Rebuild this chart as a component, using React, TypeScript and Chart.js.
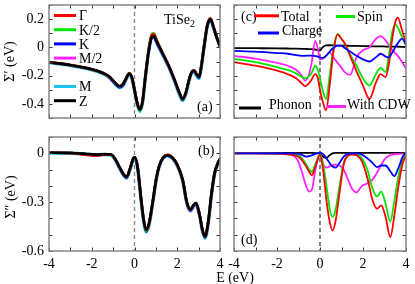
import React, { useEffect, useRef } from 'react';
import { Chart, registerables } from 'chart.js';
Chart.register(...registerables);

const SERIF = "'Liberation Serif', 'Times New Roman', 'DejaVu Serif', serif";

// ---------- Panel (a): Re Sigma for k-points ----------
const E_A = [-4, -3, -2, -1.5, -1.2, -1.0, -0.85, -0.7, -0.55, -0.4, -0.25, -0.12, 0, 0.12, 0.25, 0.38, 0.5, 0.65, 0.8, 0.9, 1.05, 1.3, 1.6, 1.9, 2.1, 2.25, 2.4, 2.55, 2.7, 2.8, 2.9, 3.02, 3.12, 3.25, 3.4, 3.55, 3.7, 3.85, 4];
const A_GAMMA = [-0.105, -0.125, -0.155, -0.18, -0.205, -0.235, -0.26, -0.275, -0.262, -0.222, -0.183, -0.213, -0.298, -0.39, -0.442, -0.378, -0.215, -0.032, 0.085, 0.095, 0.045, -0.035, -0.128, -0.24, -0.322, -0.366, -0.322, -0.23, -0.168, -0.162, -0.188, -0.208, -0.136, 0.005, 0.155, 0.205, 0.145, 0.072, 0.012];
const A_K2 = [-0.105, -0.126, -0.156, -0.181, -0.206, -0.236, -0.261, -0.276, -0.263, -0.223, -0.184, -0.214, -0.3, -0.392, -0.448, -0.38, -0.213, -0.03, 0.09, 0.1, 0.048, -0.035, -0.13, -0.242, -0.324, -0.368, -0.324, -0.232, -0.17, -0.164, -0.19, -0.21, -0.138, 0.003, 0.152, 0.203, 0.143, 0.07, 0.01];
const A_K = [-0.106, -0.126, -0.157, -0.182, -0.208, -0.24, -0.266, -0.282, -0.27, -0.226, -0.186, -0.216, -0.302, -0.392, -0.444, -0.382, -0.222, -0.04, 0.072, 0.078, 0.034, -0.042, -0.133, -0.244, -0.326, -0.37, -0.326, -0.234, -0.172, -0.168, -0.194, -0.214, -0.142, -0.002, 0.148, 0.198, 0.138, 0.068, 0.008];
const A_M2 = [-0.105, -0.126, -0.156, -0.181, -0.207, -0.238, -0.263, -0.279, -0.266, -0.224, -0.185, -0.215, -0.3, -0.39, -0.443, -0.381, -0.22, -0.038, 0.068, 0.072, 0.03, -0.044, -0.135, -0.246, -0.324, -0.362, -0.324, -0.232, -0.17, -0.166, -0.192, -0.212, -0.14, -0.001, 0.15, 0.2, 0.14, 0.07, 0.01];
const A_M = [-0.108, -0.129, -0.16, -0.185, -0.211, -0.242, -0.268, -0.285, -0.272, -0.23, -0.19, -0.22, -0.306, -0.398, -0.452, -0.388, -0.226, -0.045, 0.068, 0.075, 0.03, -0.046, -0.138, -0.25, -0.332, -0.376, -0.332, -0.24, -0.176, -0.172, -0.198, -0.22, -0.146, -0.005, 0.146, 0.197, 0.137, 0.066, 0.006];
const A_Z = [-0.105, -0.125, -0.155, -0.18, -0.205, -0.235, -0.26, -0.275, -0.262, -0.222, -0.185, -0.215, -0.3, -0.39, -0.44, -0.38, -0.22, -0.04, 0.07, 0.08, 0.038, -0.038, -0.13, -0.24, -0.32, -0.365, -0.32, -0.23, -0.17, -0.165, -0.19, -0.21, -0.14, 0.0, 0.15, 0.2, 0.14, 0.07, 0.01];

// ---------- Panel (b): Im Sigma for k-points ----------
const E_B = [-4, -3, -2.3, -1.8, -1.4, -1.1, -0.9, -0.7, -0.5, -0.37, -0.2, -0.05, 0.02, 0.15, 0.3, 0.43, 0.55, 0.68, 0.85, 1.0, 1.15, 1.35, 1.55, 1.8, 2.0, 2.25, 2.45, 2.62, 2.75, 2.88, 3.05, 3.18, 3.3, 3.45, 3.6, 3.75, 3.9, 4];
const B_GAMMA = [0.003, 0.002, -0.008, -0.014, -0.008, -0.009, -0.036, -0.086, -0.131, -0.146, -0.09, -0.031, -0.026, -0.092, -0.272, -0.412, -0.472, -0.432, -0.302, -0.171, -0.08, -0.024, -0.01, -0.03, -0.071, -0.162, -0.302, -0.347, -0.322, -0.306, -0.382, -0.472, -0.512, -0.422, -0.252, -0.121, -0.06, -0.034];
const B_K2 = [0.003, 0.002, -0.004, -0.009, -0.006, -0.008, -0.035, -0.086, -0.132, -0.147, -0.091, -0.03, -0.024, -0.091, -0.274, -0.416, -0.478, -0.436, -0.303, -0.171, -0.079, -0.022, -0.009, -0.029, -0.07, -0.161, -0.301, -0.346, -0.321, -0.305, -0.381, -0.471, -0.511, -0.421, -0.251, -0.12, -0.059, -0.033];
const B_K = [0.003, 0.002, -0.004, -0.009, -0.006, -0.009, -0.038, -0.09, -0.136, -0.15, -0.093, -0.032, -0.026, -0.093, -0.276, -0.418, -0.48, -0.438, -0.305, -0.172, -0.081, -0.026, -0.013, -0.032, -0.072, -0.163, -0.304, -0.35, -0.325, -0.309, -0.384, -0.475, -0.515, -0.425, -0.254, -0.122, -0.062, -0.036];
const B_M2 = [0.003, 0.002, -0.006, -0.013, -0.008, -0.009, -0.036, -0.087, -0.133, -0.148, -0.092, -0.031, -0.025, -0.09, -0.27, -0.41, -0.47, -0.432, -0.302, -0.172, -0.082, -0.027, -0.014, -0.032, -0.072, -0.164, -0.306, -0.352, -0.326, -0.31, -0.383, -0.473, -0.513, -0.423, -0.252, -0.121, -0.06, -0.035];
const B_M = [0.001, 0.0, -0.005, -0.011, -0.008, -0.011, -0.04, -0.092, -0.138, -0.153, -0.096, -0.035, -0.029, -0.096, -0.278, -0.42, -0.482, -0.44, -0.308, -0.176, -0.085, -0.029, -0.016, -0.035, -0.076, -0.167, -0.308, -0.354, -0.33, -0.314, -0.388, -0.478, -0.52, -0.43, -0.258, -0.126, -0.066, -0.04];
const B_Z = [0.003, 0.002, -0.003, -0.008, -0.005, -0.008, -0.035, -0.085, -0.13, -0.145, -0.09, -0.03, -0.025, -0.09, -0.27, -0.41, -0.47, -0.43, -0.3, -0.17, -0.08, -0.025, -0.012, -0.03, -0.07, -0.16, -0.3, -0.345, -0.32, -0.305, -0.38, -0.47, -0.51, -0.42, -0.25, -0.12, -0.06, -0.035];

// ---------- Panel (c): Re Sigma decomposition ----------
const E_C = [-4, -3, -2, -1.5, -1.1, -0.85, -0.7, -0.55, -0.4, -0.22, -0.1, 0, 0.12, 0.28, 0.45, 0.62, 0.82, 1.0, 1.15, 1.4, 1.7, 2.0, 2.3, 2.6, 2.82, 3.05, 3.2, 3.35, 3.5, 3.62, 3.8, 3.9, 4];
const C_TOTAL = [-0.105, -0.13, -0.165, -0.19, -0.22, -0.255, -0.275, -0.26, -0.23, -0.19, -0.22, -0.3, -0.38, -0.445, -0.27, -0.035, 0.09, 0.06, 0.03, -0.06, -0.17, -0.27, -0.365, -0.25, -0.19, -0.21, -0.12, 0.05, 0.18, 0.21, 0.13, 0.08, 0.035];
const C_SPIN = [-0.082, -0.105, -0.14, -0.16, -0.185, -0.21, -0.22, -0.21, -0.185, -0.13, -0.16, -0.22, -0.3, -0.365, -0.2, -0.01, 0.095, 0.06, 0.025, -0.05, -0.13, -0.22, -0.27, -0.19, -0.145, -0.175, -0.06, 0.1, 0.165, 0.14, 0.08, 0.045, 0.012];
const C_CHARGE = [-0.025, -0.03, -0.04, -0.045, -0.055, -0.06, -0.06, -0.058, -0.058, -0.062, -0.066, -0.072, -0.075, -0.06, -0.03, -0.005, 0.012, 0.012, -0.005, -0.03, -0.06, -0.085, -0.1, -0.07, -0.045, -0.065, -0.072, -0.04, 0.0, 0.03, 0.06, 0.05, 0.02];
const C_PHONON = [-0.005, -0.006, -0.007, -0.008, -0.009, -0.01, -0.011, -0.012, -0.013, -0.015, -0.02, -0.022, 0.0, 0.014, 0.015, 0.014, 0.013, 0.012, 0.012, 0.011, 0.01, 0.009, 0.008, 0.007, 0.007, 0.006, 0.006, 0.005, 0.005, 0.005, 0.004, 0.004, 0.004];
const C_CDW = [-0.06, -0.08, -0.11, -0.13, -0.16, -0.2, -0.235, -0.21, -0.12, 0.045, -0.01, -0.085, -0.08, -0.06, -0.035, -0.07, -0.11, -0.145, -0.175, -0.195, -0.07, -0.02, 0.0, 0.06, 0.08, 0.05, 0.015, -0.015, -0.04, -0.06, -0.1, -0.125, -0.15];

// ---------- Panel (d): Im Sigma decomposition ----------
const E_D = [-4, -3, -2, -1.6, -1.3, -1.05, -0.85, -0.65, -0.5, -0.38, -0.2, 0, 0.15, 0.3, 0.45, 0.58, 0.72, 0.9, 1.1, 1.3, 1.5, 1.7, 1.95, 2.2, 2.45, 2.65, 2.85, 3.05, 3.27, 3.45, 3.65, 3.85, 4];
const D_TOTAL = [0, 0, -0.002, -0.006, -0.01, -0.018, -0.04, -0.08, -0.115, -0.135, -0.075, -0.01, -0.11, -0.29, -0.42, -0.475, -0.42, -0.25, -0.07, -0.015, -0.008, -0.012, -0.05, -0.15, -0.29, -0.34, -0.32, -0.39, -0.515, -0.39, -0.2, -0.06, -0.02];
const D_SPIN = [0, 0, -0.002, -0.004, -0.006, -0.01, -0.03, -0.065, -0.1, -0.115, -0.06, -0.005, -0.07, -0.2, -0.34, -0.39, -0.35, -0.21, -0.06, -0.01, -0.003, -0.006, -0.03, -0.1, -0.22, -0.265, -0.235, -0.31, -0.42, -0.3, -0.14, -0.04, -0.012];
const D_CHARGE = [0, 0, 0, 0, 0, -0.002, -0.01, -0.02, -0.017, -0.012, -0.003, 0.004, -0.005, -0.03, -0.06, -0.08, -0.088, -0.06, -0.02, -0.003, 0, 0, -0.008, -0.03, -0.06, -0.085, -0.075, -0.075, -0.11, -0.14, -0.09, -0.02, -0.003];
const D_PHONON = [0.002, 0.002, 0.002, 0.002, 0.002, 0.002, 0.002, 0.002, 0.002, 0.002, 0.001, -0.005, -0.022, -0.028, -0.012, 0.0, 0.002, 0.002, 0.002, 0.002, 0.002, 0.002, 0.002, 0.002, 0.002, 0.002, 0.002, 0.002, 0.002, 0.002, 0.002, 0.002, 0.002];
const D_CDW = [0, 0, -0.002, -0.004, -0.01, -0.04, -0.11, -0.2, -0.235, -0.225, -0.09, -0.01, -0.07, -0.088, -0.08, -0.072, -0.07, -0.075, -0.1, -0.16, -0.22, -0.24, -0.2, -0.185, -0.16, -0.12, -0.07, -0.03, -0.012, -0.006, -0.004, -0.002, 0];

// axis ranges / ticks
const E_RANGE = [-4, 4];
const RE_RANGE = [-0.5, 0.3];
const IM_RANGE = [-0.6, 0.1];

const COLORS = {
  red: '#ff0000', green: '#00e800', blue: '#0000ff', magenta: '#ff22ff', cyan: '#1cc4f6', black: '#000000',
};

type Series = { label: string; color: string; values: number[]; width: number };

function fillText(ctx: CanvasRenderingContext2D, s: string, x: number, y: number, size = 14, align: CanvasTextAlign = 'left') {
  ctx.font = `${size}px ${SERIF}`;
  ctx.fillStyle = '#000';
  ctx.textAlign = align;
  ctx.textBaseline = 'alphabetic';
  ctx.fillText(s, x, y);
}
function legendLine(ctx: CanvasRenderingContext2D, x1: number, x2: number, y: number, color: string) {
  ctx.save();
  ctx.setLineDash([]);
  ctx.strokeStyle = color;
  ctx.lineWidth = 3;
  ctx.beginPath();
  ctx.moveTo(x1, y);
  ctx.lineTo(x2, y);
  ctx.stroke();
  ctx.restore();
}
function rotatedText(ctx: CanvasRenderingContext2D, s: string, x: number, y: number) {
  ctx.save();
  ctx.translate(x, y);
  ctx.rotate(-Math.PI / 2);
  ctx.font = `14px ${SERIF}`;
  ctx.fillStyle = '#000';
  ctx.textAlign = 'center';
  ctx.textBaseline = 'middle';
  ctx.fillText(s, 0, 0);
  ctx.restore();
}

type Spec = {
  E: number[];
  series: Series[]; // index 0 drawn on top
  yRange: number[];
  yLabelEvery: number; // 0 => hidden
  showX: boolean;
  padding: { left: number; right: number; top: number; bottom: number };
  dashColor: string;
  dashWidth: number;
  decorate: (ctx: CanvasRenderingContext2D, a: any, chart: any) => void;
};

function makeConfig(spec: Spec): any {
  const showY = spec.yLabelEvery > 0;
  const decor = {
    id: 'decor',
    beforeDatasetsDraw(chart: any) {
      const { ctx, chartArea: a, scales } = chart;
      const x0 = scales.x.getPixelForValue(0);
      ctx.save();
      ctx.strokeStyle = spec.dashColor;
      ctx.lineWidth = spec.dashWidth;
      ctx.setLineDash([4, 3]);
      ctx.beginPath();
      ctx.moveTo(x0, a.top);
      ctx.lineTo(x0, a.bottom);
      ctx.stroke();
      ctx.restore();
    },
    afterDatasetsDraw(chart: any) {
      const { ctx, chartArea: a, scales } = chart;
      ctx.save();
      // inward ticks
      ctx.strokeStyle = '#333';
      ctx.lineWidth = 1;
      ctx.setLineDash([]);
      ctx.beginPath();
      const tl = 3.5;
      for (const t of scales.x.ticks) {
        const px = Math.round(scales.x.getPixelForValue(t.value)) + 0.5;
        ctx.moveTo(px, a.bottom); ctx.lineTo(px, a.bottom - tl);
        ctx.moveTo(px, a.top); ctx.lineTo(px, a.top + tl);
      }
      for (const t of scales.y.ticks) {
        const py = Math.round(scales.y.getPixelForValue(t.value)) + 0.5;
        ctx.moveTo(a.left, py); ctx.lineTo(a.left + tl, py);
        ctx.moveTo(a.right, py); ctx.lineTo(a.right - tl, py);
      }
      ctx.stroke();
      // frame
      ctx.strokeStyle = '#858585';
      ctx.lineWidth = 1.5;
      ctx.strokeRect(a.left, a.top, a.right - a.left, a.bottom - a.top);
      ctx.restore();
      ctx.save();
      spec.decorate(ctx, a, chart);
      ctx.restore();
    },
  };
  return {
    type: 'line',
    data: {
      datasets: spec.series.map((s) => ({
        label: s.label,
        data: spec.E.map((x, i) => ({ x, y: s.values[i] })),
        borderColor: s.color,
        backgroundColor: s.color,
        borderWidth: s.width,
        pointRadius: 0,
        fill: false,
        cubicInterpolationMode: 'monotone',
        borderJoinStyle: 'round',
        borderCapStyle: 'round',
      })),
    },
    options: {
      animation: false,
      responsive: false,
      maintainAspectRatio: false,
      events: [],
      layout: { padding: spec.padding },
      plugins: { legend: { display: false }, tooltip: { enabled: false }, title: { display: false } },
      scales: {
        x: {
          type: 'linear',
          position: 'bottom',
          min: E_RANGE[0],
          max: E_RANGE[1],
          display: true,
          grid: { display: false, drawTicks: false },
          border: { display: false },
          ticks: {
            display: spec.showX,
            stepSize: 1,
            autoSkip: false,
            maxRotation: 0,
            padding: 5,
            color: '#000',
            font: { family: SERIF, size: 14 },
            callback: (v: number) => {
              const r = Math.round(v);
              return r % 2 === 0 ? String(r) : '';
            },
          },
          afterFit: (s: any) => {
            s.height = spec.showX ? 33 : 0;
            s.paddingLeft = 0; s.paddingRight = 0; s.paddingTop = 0; s.paddingBottom = 0;
          },
        },
        y: {
          type: 'linear',
          position: 'left',
          min: spec.yRange[0],
          max: spec.yRange[1],
          display: true,
          grid: { display: false, drawTicks: false },
          border: { display: false },
          ticks: {
            display: showY,
            stepSize: 0.1,
            autoSkip: false,
            padding: 5,
            color: '#000',
            font: { family: SERIF, size: 14 },
            callback: (v: number) => {
              const r = Math.round(v * 10);
              return showY && r % spec.yLabelEvery === 0 ? String(r / 10) : '';
            },
          },
          afterFit: (s: any) => {
            s.width = showY ? 49 : 0;
            s.paddingLeft = 0; s.paddingRight = 0; s.paddingTop = 0; s.paddingBottom = 0;
          },
        },
      },
    },
    plugins: [decor],
  };
}

const KSERIES_A: Series[] = [
  { label: 'Z', color: COLORS.black, values: A_Z, width: 2.6 },
  { label: 'Γ', color: COLORS.red, values: A_GAMMA, width: 2.6 },
  { label: 'K/2', color: COLORS.green, values: A_K2, width: 2.6 },
  { label: 'K', color: COLORS.blue, values: A_K, width: 2.6 },
  { label: 'M/2', color: COLORS.magenta, values: A_M2, width: 2.6 },
  { label: 'M', color: COLORS.cyan, values: A_M, width: 3.4 },
];
const KSERIES_B: Series[] = [
  { label: 'Z', color: COLORS.black, values: B_Z, width: 2.6 },
  { label: 'Γ', color: COLORS.red, values: B_GAMMA, width: 2.6 },
  { label: 'K/2', color: COLORS.green, values: B_K2, width: 2.6 },
  { label: 'K', color: COLORS.blue, values: B_K, width: 2.6 },
  { label: 'M/2', color: COLORS.magenta, values: B_M2, width: 2.6 },
  { label: 'M', color: COLORS.cyan, values: B_M, width: 3.4 },
];
const DECOMP_C: Series[] = [
  { label: 'Charge', color: COLORS.blue, values: C_CHARGE, width: 1.8 },
  { label: 'Total', color: COLORS.red, values: C_TOTAL, width: 1.8 },
  { label: 'Spin', color: COLORS.green, values: C_SPIN, width: 1.8 },
  { label: 'With CDW', color: COLORS.magenta, values: C_CDW, width: 1.8 },
  { label: 'Phonon', color: COLORS.black, values: C_PHONON, width: 1.8 },
];
const DECOMP_D: Series[] = [
  { label: 'Charge', color: COLORS.blue, values: D_CHARGE, width: 1.8 },
  { label: 'Total', color: COLORS.red, values: D_TOTAL, width: 1.8 },
  { label: 'Spin', color: COLORS.green, values: D_SPIN, width: 1.8 },
  { label: 'With CDW', color: COLORS.magenta, values: D_CDW, width: 1.8 },
  { label: 'Phonon', color: COLORS.black, values: D_PHONON, width: 1.8 },
];

const LEGEND_A_ORDER = ['Γ', 'K/2', 'K', 'M/2', '', 'M', 'Z'];

const SPECS: Spec[] = [
  {
    E: E_A, series: KSERIES_A, yRange: RE_RANGE, yLabelEvery: 2, showX: false,
    padding: { left: 0, right: 195, top: 5, bottom: 166 },
    dashColor: '#8c8c8c', dashWidth: 1.4,
    decorate: (ctx, a) => {
      LEGEND_A_ORDER.forEach((lab, slot) => {
        if (!lab) return;
        const s = KSERIES_A.find((q) => q.label === lab)!;
        const y = a.top + 10.5 + slot * 14.2;
        legendLine(ctx, a.left + 5, a.left + 27, y, s.color);
        fillText(ctx, lab, a.left + 30, y + 4.8);
      });
      fillText(ctx, 'TiSe', a.left + 115, a.top + 18.7);
      ctx.font = `14px ${SERIF}`;
      const w = ctx.measureText('TiSe').width;
      fillText(ctx, '2', a.left + 115 + w, a.top + 22, 10);
      fillText(ctx, '(a)', a.left + 148, a.top + 106);
      rotatedText(ctx, 'Σ′ (eV)', 10, (a.top + a.bottom) / 2);
    },
  },
  {
    E: E_B, series: KSERIES_B, yRange: IM_RANGE, yLabelEvery: 3, showX: true,
    padding: { left: 0, right: 195, top: 137, bottom: 0 },
    dashColor: '#8c8c8c', dashWidth: 1.4,
    decorate: (ctx, a) => {
      fillText(ctx, '(b)', a.left + 149, a.top + 18);
      rotatedText(ctx, 'Σ″ (eV)', 11, (a.top + a.bottom) / 2 + 3);
    },
  },
  {
    E: E_C, series: DECOMP_C, yRange: RE_RANGE, yLabelEvery: 0, showX: false,
    padding: { left: 234, right: 9, top: 5, bottom: 166 },
    dashColor: '#000', dashWidth: 1,
    decorate: (ctx, a) => {
      const col = (l: string) => DECOMP_C.find((q) => q.label === l)!.color;
      fillText(ctx, '(c)', a.left + 7, a.top + 16);
      legendLine(ctx, a.left + 20, a.left + 45, a.top + 10.8, col('Total'));
      fillText(ctx, 'Total', a.left + 47, a.top + 16);
      legendLine(ctx, a.left + 102, a.left + 121, a.top + 11.5, col('Spin'));
      fillText(ctx, 'Spin', a.left + 123, a.top + 16);
      legendLine(ctx, a.left + 24, a.left + 45, a.top + 28, col('Charge'));
      fillText(ctx, 'Charge', a.left + 48, a.top + 30);
      legendLine(ctx, a.left + 5, a.left + 27, a.top + 103, col('Phonon'));
      fillText(ctx, 'Phonon', a.left + 35, a.top + 104);
      legendLine(ctx, a.left + 93, a.left + 112, a.top + 101.5, col('With CDW'));
      fillText(ctx, 'With CDW', a.left + 113, a.top + 104);
    },
  },
  {
    E: E_D, series: DECOMP_D, yRange: IM_RANGE, yLabelEvery: 0, showX: true,
    padding: { left: 234, right: 9, top: 137, bottom: 0 },
    dashColor: '#000', dashWidth: 1,
    decorate: (ctx, a) => {
      fillText(ctx, '(d)', a.left + 7, a.top + 107);
      fillText(ctx, 'E (eV)', a.left + 1, 282, 14, 'center');
    },
  },
];

export default function App() {
  const r0 = useRef<HTMLCanvasElement>(null);
  const r1 = useRef<HTMLCanvasElement>(null);
  const r2 = useRef<HTMLCanvasElement>(null);
  const r3 = useRef<HTMLCanvasElement>(null);
  const refs = [r0, r1, r2, r3];

  useEffect(() => {
    const charts: Chart[] = [];
    SPECS.forEach((spec, i) => {
      const c = refs[i].current;
      if (c) charts.push(new Chart(c, makeConfig(spec)));
    });
    return () => charts.forEach((c) => c.destroy());
  }, []);

  return (
    <div style={{ position: 'fixed', left: 0, top: 0, width: 415, height: 284, background: '#fff' }}>
      {refs.map((r, i) => (
        <canvas
          key={i}
          ref={r}
          width={415}
          height={284}
          style={{ position: 'absolute', left: 0, top: 0, width: 415, height: 284 }}
        />
      ))}
    </div>
  );
}
